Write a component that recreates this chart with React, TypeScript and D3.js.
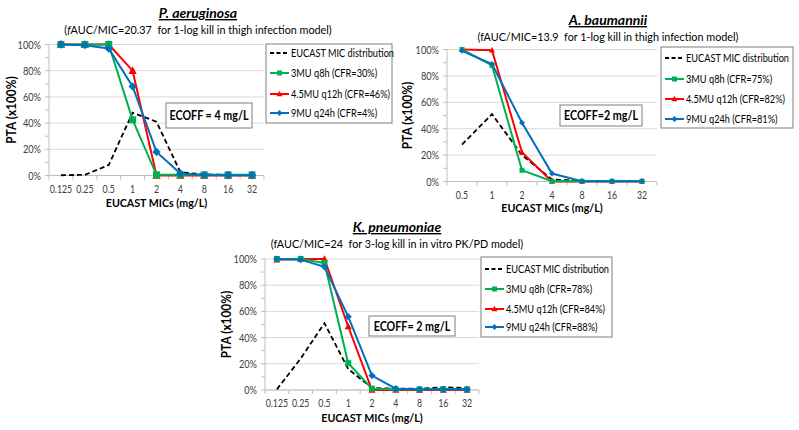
import React from "react";
import * as d3 from "d3";

// P. aeruginosa
const micsA = ["0.125", "0.25", "0.5", "1", "2", "4", "8", "16", "32"];
const eucastA = [0.2, 0.5, 8, 48, 41, 2.5, 0.8, 0.5, 0.3];
const mu3A = [100, 100, 100, 42.5, 0.5, 0.5, 0.5, 0.5, 0.5];
const mu45A = [100, 100, 100, 80, 0, 0, 0, 0, 0];
const mu9A = [100, 99.5, 97, 68, 18, 1.5, 0.3, 0.2, 0.2];

// A. baumannii
const micsB = ["0.5", "1", "2", "4", "8", "16", "32"];
const eucastB = [28, 51, 20, 1.5, 0.5, 0.5, 0.3];
const mu3B = [100, 88, 8.5, 0.2, 0.2, 0.2, 0.2];
const mu45B = [100, 99.5, 22, 0, 0, 0, 0];
const mu9B = [99, 89, 44.5, 6, 0.2, 0.2, 0.2];

// K. pneumoniae
const micsC = ["0.125", "0.25", "0.5", "1", "2", "4", "8", "16", "32"];
const eucastC = [0.5, 24, 51, 16, 1.5, 1, 1, 2, 1.5];
const mu3C = [100, 100, 97, 20.5, 1, 0.5, 0.5, 0.5, 0.5];
const mu45C = [99.5, 100, 100, 48.5, 0, 0, 0, 0, 0];
const mu9C = [100, 99.5, 94, 56, 11, 1, 0.5, 0.5, 0.5];

const yTicks = [0, 20, 40, 60, 80, 100];
const GREEN = "#00B050";
const RED = "#FF0000";
const BLUE = "#0070C0";
const FONT = "Lato, 'Open Sans', sans-serif";

// narrow text (the original uses Calibri, which is narrower than Lato)
function T(props: {
  x: number;
  y: number;
  sx?: number;
  anchor?: string;
  size: number;
  weight?: string;
  fill?: string;
  children: React.ReactNode;
}) {
  return (
    <text
      transform={`translate(${props.x},${props.y}) scale(${props.sx ?? 0.86},1)`}
      textAnchor={props.anchor || "start"}
      fontSize={props.size}
      fontWeight={props.weight || "normal"}
      fill={props.fill || "#000"}
    >
      {props.children}
    </text>
  );
}

type PanelProps = {
  mics: string[];
  eucast: number[];
  mu3: number[];
  mu45: number[];
  mu9: number[];
  legendLabels: string[];
  title: string;
  subtitle: React.ReactNode;
  ecoff: string;
  plot: { x0: number; x1: number; yTop: number; yBot: number };
  titleX: number;
  titleY: number;
  yTitleX: number;
  xTitleY: number;
  tickDy: number;
  legend: { x: number; y: number; w: number; h: number; rows: number[] };
  ecoffBox: { x: number; y: number; w: number; h: number };
  ms: number;
};

function marker(shape: string, x: number, y: number, s: number, color: string, key: string) {
  if (shape === "square") {
    return <rect key={key} x={x - s / 2} y={y - s / 2} width={s} height={s} fill={color} />;
  }
  if (shape === "triangle") {
    const h = s * 1.05;
    return (
      <path
        key={key}
        d={`M${x},${y - h * 0.6} L${x + s * 0.6},${y + h * 0.45} L${x - s * 0.6},${y + h * 0.45} Z`}
        fill={color}
      />
    );
  }
  const r = s * 0.6;
  return <path key={key} d={`M${x},${y - r} L${x + r},${y} L${x},${y + r} L${x - r},${y} Z`} fill={color} />;
}

function Panel(p: PanelProps) {
  const x = d3.scaleBand().domain(p.mics).range([p.plot.x0, p.plot.x1]);
  const y = d3.scaleLinear().domain([0, 100]).range([p.plot.yBot, p.plot.yTop]);
  const cx = (i: number) => (x(p.mics[i]) as number) + x.bandwidth() / 2;
  const line = d3
    .line<number>()
    .x((_, i) => cx(i))
    .y((d) => y(d));

  const series = [
    { data: p.mu45, color: RED, shape: "triangle" },
    { data: p.mu3, color: GREEN, shape: "square" },
    { data: p.mu9, color: BLUE, shape: "diamond" },
  ];
  const minor = d3.range(0, 101, 10);
  const bounds = p.mics.map((m) => x(m) as number).concat([p.plot.x1]);
  const lg = p.legend;
  const legendItems = [
    { color: "#000", dash: "4,2.5", shape: "" },
    { color: GREEN, dash: "", shape: "square" },
    { color: RED, dash: "", shape: "triangle" },
    { color: BLUE, dash: "", shape: "diamond" },
  ];
  const yMid = (p.plot.yTop + p.plot.yBot) / 2;

  return (
    <g fontFamily={FONT}>
      <text
        x={p.titleX}
        y={p.titleY}
        textAnchor="middle"
        fontSize={14}
        fontWeight="bold"
        fontStyle="italic"
        textDecoration="underline"
        fill="#000"
      >
        {p.title}
      </text>
      <T x={p.titleX} y={p.titleY + 16} anchor="middle" size={12} sx={0.9}>
        {p.subtitle}
      </T>

      {yTicks.map((t) => (
        <line key={"g" + t} x1={p.plot.x0} x2={p.plot.x1} y1={y(t)} y2={y(t)} stroke="#d9d9d9" strokeWidth={1} />
      ))}
      {minor.map((t) => (
        <line key={"m" + t} x1={p.plot.x0 - 4} x2={p.plot.x0} y1={y(t)} y2={y(t)} stroke="#bfbfbf" />
      ))}
      <line x1={p.plot.x0} x2={p.plot.x0} y1={p.plot.yTop} y2={p.plot.yBot} stroke="#bfbfbf" />
      <line x1={p.plot.x0} x2={p.plot.x1} y1={p.plot.yBot} y2={p.plot.yBot} stroke="#bfbfbf" />
      {bounds.map((b, i) => (
        <line key={"b" + i} x1={b} x2={b} y1={p.plot.yBot} y2={p.plot.yBot + 4} stroke="#bfbfbf" />
      ))}
      {yTicks.map((t) => (
        <T key={"yl" + t} x={p.plot.x0 - 8} y={y(t) + 4} anchor="end" size={11} sx={0.84} fill="#404040">
          {t + "%"}
        </T>
      ))}
      {p.mics.map((m, i) => (
        <T key={"xl" + m} x={cx(i)} y={p.plot.yBot + p.tickDy} anchor="middle" size={11} sx={0.8} fill="#404040">
          {m}
        </T>
      ))}
      <text
        transform={`translate(${p.yTitleX},${yMid}) rotate(-90) scale(0.95,1)`}
        textAnchor="middle"
        dominantBaseline="middle"
        fontSize={12.5}
        fontWeight="bold"
        fill="#000"
      >
        PTA (x100%)
      </text>
      <T x={(p.plot.x0 + p.plot.x1) / 2} y={p.xTitleY} anchor="middle" size={12} weight="bold" sx={0.89}>
        EUCAST MICs (mg/L)
      </T>

      <path d={line(p.eucast) || ""} fill="none" stroke="#000" strokeWidth={1.8} strokeDasharray="5,3" />
      {series.map((s, si) => (
        <path key={"l" + si} d={line(s.data) || ""} fill="none" stroke={s.color} strokeWidth={2} />
      ))}
      {series.map((s, si) => (
        <g key={"mk" + si}>{s.data.map((d, i) => marker(s.shape, cx(i), y(d), p.ms, s.color, si + "-" + i))}</g>
      ))}

      <rect
        x={p.ecoffBox.x}
        y={p.ecoffBox.y}
        width={p.ecoffBox.w}
        height={p.ecoffBox.h}
        fill="#fff"
        stroke="#7f7f7f"
      />
      <T
        x={p.ecoffBox.x + p.ecoffBox.w / 2}
        y={p.ecoffBox.y + p.ecoffBox.h / 2 + 4.5}
        anchor="middle"
        size={12.5}
        weight="bold"
        sx={0.86}
      >
        {p.ecoff}
      </T>

      <rect x={lg.x} y={lg.y} width={lg.w} height={lg.h} fill="#fff" stroke="#7f7f7f" />
      {legendItems.map((it, i) => {
        const ry = lg.y + lg.rows[i];
        return (
          <g key={"lg" + i}>
            <line
              x1={lg.x + 4}
              x2={lg.x + 23}
              y1={ry}
              y2={ry}
              stroke={it.color}
              strokeWidth={it.dash ? 1.8 : 2}
              strokeDasharray={it.dash || undefined}
            />
            {it.shape ? marker(it.shape, lg.x + 13.5, ry, 5, it.color, "lm" + i) : null}
            <T x={lg.x + 25} y={ry + 4} size={11.5} sx={0.8}>
              {p.legendLabels[i]}
            </T>
          </g>
        );
      })}
    </g>
  );
}

export default function App() {
  return (
    <svg width={799} height={430} style={{ position: "absolute", left: 0, top: 0, background: "#fff" }}>
      <rect width={799} height={430} fill="#fff" />
      <Panel
        mics={micsA}
        eucast={eucastA}
        mu3={mu3A}
        mu45={mu45A}
        mu9={mu9A}
        legendLabels={["EUCAST MIC distribution", "3MU q8h (CFR=30%)", "4.5MU q12h (CFR=46%)", "9MU q24h (CFR=4%)"]}
        title="P. aeruginosa"
        subtitle={
          <>
            (<tspan fontStyle="italic">f</tspan>AUC/MIC=20.37{"\u00a0 "}for 1-log kill in thigh infection model)
          </>
        }
        ecoff="ECOFF = 4 mg/L"
        plot={{ x0: 49, x1: 264, yTop: 44.5, yBot: 175.5 }}
        titleX={198}
        titleY={18}
        yTitleX={13}
        xTitleY={207}
        tickDy={17.5}
        legend={{ x: 266, y: 44, w: 126, h: 79, rows: [9, 29, 50, 69] }}
        ecoffBox={{ x: 166, y: 103, w: 86, h: 25 }}
        ms={7}
      />
      <Panel
        mics={micsB}
        eucast={eucastB}
        mu3={mu3B}
        mu45={mu45B}
        mu9={mu9B}
        legendLabels={["EUCAST MIC distribution", "3MU q8h (CFR=75%)", "4.5MU q12h (CFR=82%)", "9MU q24h (CFR=81%)"]}
        title="A. baumannii"
        subtitle={"(fAUC/MIC=13.9\u00a0 for 1-log kill in thigh infection model)"}
        ecoff="ECOFF=2 mg/L"
        plot={{ x0: 447, x1: 657, yTop: 49.5, yBot: 181.5 }}
        titleX={608}
        titleY={25}
        yTitleX={409}
        xTitleY={212}
        tickDy={17}
        legend={{ x: 661, y: 47, w: 132, h: 81, rows: [11, 32, 52, 72] }}
        ecoffBox={{ x: 560, y: 105, w: 82, h: 21 }}
        ms={5}
      />
      <Panel
        mics={micsC}
        eucast={eucastC}
        mu3={mu3C}
        mu45={mu45C}
        mu9={mu9C}
        legendLabels={["EUCAST MIC distribution", "3MU q8h (CFR=78%)", "4.5MU q12h (CFR=84%)", "9MU q24h (CFR=88%)"]}
        title="K. pneumoniae"
        subtitle={"(fAUC/MIC=24\u00a0 for 3-log kill in in vitro PK/PD model)"}
        ecoff="ECOFF= 2 mg/L"
        plot={{ x0: 265, x1: 479, yTop: 259, yBot: 390 }}
        titleX={397}
        titleY={232}
        yTitleX={228}
        xTitleY={422}
        tickDy={17}
        legend={{ x: 481, y: 257, w: 131, h: 80, rows: [12, 32, 52, 70] }}
        ecoffBox={{ x: 369, y: 316, w: 86, h: 20 }}
        ms={6}
      />
    </svg>
  );
}
